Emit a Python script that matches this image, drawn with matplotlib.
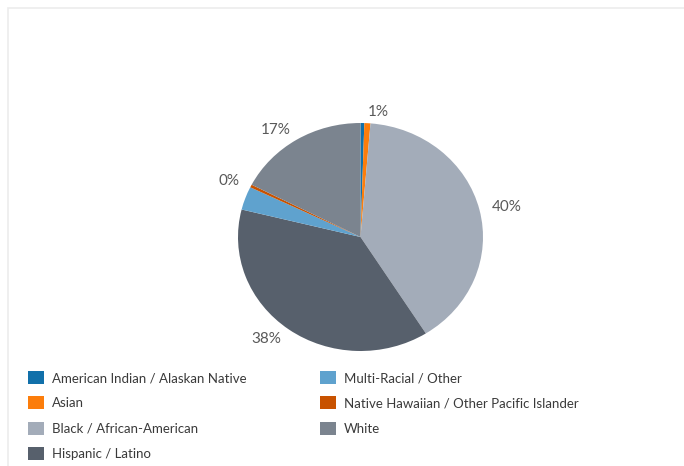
import matplotlib
matplotlib.use("Agg")
import matplotlib.pyplot as plt
from matplotlib.patches import Patch, Rectangle

plt.rcParams['font.family'] = ['Lato', 'DejaVu Sans']

categories = ["American Indian / Alaskan Native", "Asian", "Black / African-American",
              "Hispanic / Latino", "Multi-Racial / Other",
              "Native Hawaiian / Other Pacific Islander", "White"]
values = [0.5, 0.8, 39.7, 37.8, 3.3, 0.4, 17.4]
colors = ["#1170aa", "#fc7d0b", "#a3acb9", "#57606c", "#5fa2ce", "#c85200", "#7b848f"]
shown = [False, True, True, True, False, True, True]

W, H = 684, 466
fig = plt.figure(figsize=(W / 100, H / 100), dpi=100)
fig.patch.set_facecolor("white")

# faint card border
fig.add_artist(Rectangle((8 / W, -0.1), 1.2, (H - 8) / H + 0.1, transform=fig.transFigure,
                         fill=False, edgecolor="#ececec", linewidth=1.2))

cx, cy, rx, ry = 360.5, 229, 122.5, 114
ax = fig.add_axes([(cx - 1.25 * rx) / W, (cy - 1.25 * ry) / H, 2.5 * rx / W, 2.5 * ry / H])
total = sum(values)
labels = [f"{round(v / total * 100)}%" if s else "" for v, s in zip(values, shown)]
wedges, texts = ax.pie(values, colors=colors, startangle=90, counterclock=False,
                       labels=labels, labeldistance=1.1,
                       textprops=dict(color="#595959", fontsize=11),
                       wedgeprops=dict(linewidth=0))
ax.set_aspect("auto")
ax.set_xlim(-1.25, 1.25)
ax.set_ylim(-1.25, 1.25)
ax.axis("off")

handles = [Patch(facecolor=c, edgecolor="none") for c in colors]
common = dict(frameon=False, fontsize=9.5, handlelength=1.2, handleheight=1.15,
              handletextpad=0.6, labelspacing=0.93, borderpad=0, borderaxespad=0,
              loc="upper left", labelcolor="#3a3a3a")
fig.legend(handles[:4], categories[:4], bbox_to_anchor=(28 / W, 1 - 371 / H), **common)
fig.legend(handles[4:], categories[4:], bbox_to_anchor=(320 / W, 1 - 371 / H), **common)

fig.savefig("out.png", dpi=100, facecolor="white")
